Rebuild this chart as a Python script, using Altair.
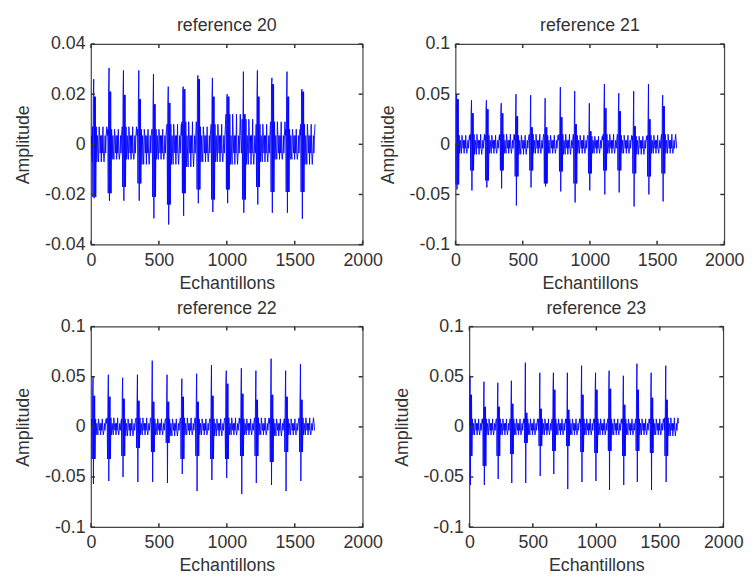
import altair as alt
import pandas as pd

# ---- data (sample index, amplitude) ----
END = 1650

# reference 20
r20_x = [20, 133, 239, 352, 460, 569, 679, 787, 894, 1003, 1122, 1225, 1332, 1443, 1553]
r20_max = [0.026, 0.0305, 0.0295, 0.0295, 0.028, 0.023, 0.023, 0.0275, 0.0265, 0.020, 0.029, 0.0295, 0.0265, 0.029, 0.022]
r20_min = [-0.0215, -0.0225, -0.0225, -0.0225, -0.0295, -0.032, -0.0285, -0.0235, -0.027, -0.0235, -0.0273, -0.024, -0.0273, -0.0273, -0.0297]
r20_chi = [0.019, 0.021, 0.0197, 0.018, 0.016, 0.0165, 0.022, 0.026, 0.019, 0.019, 0.012, 0.019, 0.024, 0.019, 0.021]
r20_clo = [-0.021, -0.0195, -0.017, -0.0156, -0.021, -0.024, -0.0195, -0.018, -0.022, -0.018, -0.022, -0.017, -0.019, -0.019, -0.019]
r20_ghi = [0.007, 0.006, 0.007, 0.006, 0.006, 0.008, 0.009, 0.007, 0.008, 0.012, 0.010, 0.008, 0.009, 0.006, 0.008]
r20_glo = [-0.007, -0.006, -0.006, -0.008, -0.006, -0.008, -0.009, -0.007, -0.007, -0.008, -0.008, -0.007, -0.006, -0.006, -0.008]
r20_noise = 0.0035

# reference 21
r21_x = [8, 119, 230, 340, 450, 559, 667, 780, 887, 996, 1108, 1215, 1326, 1436, 1542]
r21_max = [0.050, 0.044, 0.044, 0.041, 0.050, 0.049, 0.046, 0.057, 0.053, 0.041, 0.060, 0.051, 0.053, 0.060, 0.049]
r21_min = [-0.045, -0.046, -0.043, -0.044, -0.061, -0.043, -0.042, -0.047, -0.058, -0.046, -0.050, -0.048, -0.062, -0.050, -0.057]
r21_chi = [0.045, 0.031, 0.035, 0.031, 0.028, 0.017, 0.017, 0.027, 0.020, 0.013, 0.036, 0.033, 0.018, 0.025, 0.038]
r21_clo = [-0.040, -0.026, -0.036, -0.026, -0.032, -0.026, -0.039, -0.027, -0.039, -0.029, -0.026, -0.026, -0.029, -0.032, -0.029]
r21_ghi = [0.009, 0.010, 0.009, 0.010, 0.009, 0.010, 0.009, 0.010, 0.009, 0.008, 0.010, 0.009, 0.008, 0.009, 0.010]
r21_glo = [-0.009, -0.010, -0.009, -0.009, -0.010, -0.009, -0.009, -0.010, -0.009, -0.009, -0.009, -0.009, -0.010, -0.009, -0.009]
r21_noise = 0.004

# reference 22
r22_x = [15, 128, 233, 342, 451, 560, 669, 778, 887, 996, 1107, 1214, 1326, 1433, 1542]
r22_max = [0.050, 0.052, 0.049, 0.052, 0.066, 0.052, 0.048, 0.053, 0.0615, 0.056, 0.0585, 0.056, 0.068, 0.056, 0.0625]
r22_min = [-0.057, -0.054, -0.050, -0.055, -0.055, -0.056, -0.047, -0.064, -0.053, -0.051, -0.067, -0.056, -0.058, -0.064, -0.054]
r22_chi = [0.031, 0.030, 0.028, 0.026, 0.025, 0.025, 0.030, 0.025, 0.031, 0.043, 0.033, 0.027, 0.032, 0.030, 0.027]
r22_clo = [-0.032, -0.032, -0.029, -0.021, -0.025, -0.016, -0.032, -0.029, -0.032, -0.032, -0.029, -0.029, -0.035, -0.025, -0.025]
r22_ghi = [0.008, 0.009, 0.008, 0.009, 0.008, 0.008, 0.009, 0.008, 0.008, 0.009, 0.008, 0.009, 0.008, 0.008, 0.009]
r22_glo = [-0.008, -0.008, -0.009, -0.008, -0.008, -0.009, -0.008, -0.008, -0.009, -0.008, -0.008, -0.008, -0.009, -0.008, -0.008]
r22_noise = 0.0035

# reference 23
r23_x = [5, 115, 224, 331, 441, 555, 662, 772, 884, 994, 1101, 1213, 1320, 1432, 1547]
r23_max = [0.051, 0.045, 0.044, 0.046, 0.064, 0.054, 0.054, 0.054, 0.061, 0.054, 0.056, 0.051, 0.063, 0.054, 0.061]
r23_min = [-0.058, -0.058, -0.052, -0.056, -0.056, -0.049, -0.047, -0.062, -0.055, -0.054, -0.063, -0.058, -0.055, -0.063, -0.055]
r23_chi = [0.032, 0.020, 0.020, 0.023, 0.014, 0.018, 0.037, 0.017, 0.032, 0.037, 0.038, 0.022, 0.037, 0.029, 0.027]
r23_clo = [-0.029, -0.039, -0.029, -0.027, -0.016, -0.019, -0.024, -0.019, -0.025, -0.026, -0.024, -0.029, -0.024, -0.026, -0.029]
r23_ghi = [0.008, 0.008, 0.008, 0.008, 0.008, 0.008, 0.008, 0.008, 0.008, 0.008, 0.008, 0.008, 0.008, 0.008, 0.009]
r23_glo = [-0.008, -0.008, -0.008, -0.008, -0.008, -0.008, -0.008, -0.008, -0.008, -0.008, -0.008, -0.008, -0.008, -0.008, -0.009]
r23_noise = 0.0035

x_ticks = [0, 500, 1000, 1500, 2000]
y_ticks_20 = [-0.04, -0.02, 0, 0.02, 0.04]
y_ticks_2x = [-0.1, -0.05, 0, 0.05, 0.1]

FONT = "Liberation Sans"
TXT = "#333333"
BLUE = "#0000ff"
H = 203


def build(sx, smax, smin, chi, clo, ghi, glo, noise):
    pts = [(0, 0.0)]

    def add(x, y):
        if x > pts[-1][0] and x <= END:
            pts.append((x, y))

    def band(a, b, k):
        for j, x in enumerate(range(a, b, 4)):
            if j % 7 == 3:
                y = ghi[k]
            elif j % 5 == 2:
                y = glo[k]
            else:
                y = noise if j % 2 == 0 else -noise
            add(x, y)

    band(2, sx[0] - 9, 0)
    for k, s in enumerate(sx):
        for dx, y in [(-9, ghi[k]), (-6, clo[k]), (-3, chi[k]), (0, smax[k]), (3, smin[k]),
                      (6, chi[k]), (9, clo[k]), (12, chi[k]), (15, clo[k]),
                      (19, ghi[k]), (23, glo[k])]:
            add(s + dx, y)
        nxt = sx[k + 1] - 9 if k + 1 < len(sx) else END
        band(s + 28, nxt, k)
    return pd.DataFrame({"i": range(len(pts)), "x": [p[0] for p in pts], "y": [p[1] for p in pts]})


def panel(title, df, ydom, yticks, width, height=H):
    xenc = alt.X("x:Q", scale=alt.Scale(domain=[0, 2000], nice=False, zero=False),
                 axis=alt.Axis(values=x_ticks, title="Echantillons", format="d", ticks=False,
                               domain=False, grid=False, labelFlush=False, labelPadding=7,
                               titlePadding=5))
    ylab = "datum.value == 0 ? '0' : (datum.value < 0 ? '-' : '') + format(abs(datum.value), '~g')"
    yenc = alt.Y("y:Q", scale=alt.Scale(domain=ydom, nice=False, zero=False),
                 axis=alt.Axis(values=yticks, title="Amplitude", labelExpr=ylab, ticks=False,
                               domain=False, grid=False, labelFlush=False, labelPadding=6,
                               titlePadding=12))
    line = alt.Chart(df).mark_line(color=BLUE, strokeWidth=0.9, clip=True).encode(
        x=xenc, y=yenc, order="i:Q")
    xt = pd.DataFrame({"x": x_ticks})
    yt = pd.DataFrame({"y": yticks})
    tk = dict(color="#333333", strokeWidth=1.5)
    xb = alt.Chart(xt).mark_rule(**tk).encode(x=xenc, y=alt.value(height), y2=alt.value(height - 4))
    xtop = alt.Chart(xt).mark_rule(**tk).encode(x=xenc, y=alt.value(0), y2=alt.value(4))
    yl = alt.Chart(yt).mark_rule(**tk).encode(y=yenc, x=alt.value(0), x2=alt.value(4))
    yr = alt.Chart(yt).mark_rule(**tk).encode(y=yenc, x=alt.value(width - 4), x2=alt.value(width))
    return alt.layer(line, xb, xtop, yl, yr).properties(
        width=width, height=height,
        title=alt.TitleParams(title, font=FONT, fontSize=18, fontWeight="normal", color=TXT, offset=0))


p1 = panel("reference 20", build(r20_x, r20_max, r20_min, r20_chi, r20_clo, r20_ghi, r20_glo, r20_noise),
           [-0.04, 0.04], y_ticks_20, 275)
p2 = panel("reference 21", build(r21_x, r21_max, r21_min, r21_chi, r21_clo, r21_ghi, r21_glo, r21_noise),
           [-0.1, 0.1], y_ticks_2x, 272)
p3 = panel("reference 22", build(r22_x, r22_max, r22_min, r22_chi, r22_clo, r22_ghi, r22_glo, r22_noise),
           [-0.1, 0.1], y_ticks_2x, 275)
p4 = panel("reference 23", build(r23_x, r23_max, r23_min, r23_chi, r23_clo, r23_ghi, r23_glo, r23_noise),
           [-0.1, 0.1], y_ticks_2x, 257)

row1 = alt.hconcat(p1, p2, spacing=-5)
row2 = alt.hconcat(p3, p4, spacing=9)
chart = alt.vconcat(row1, row2, spacing=6).properties(
    padding={"left": 6, "top": 5, "right": 0, "bottom": 0}
).configure_view(stroke="#444444", strokeWidth=1.2).configure_axis(
    labelFont=FONT, labelFontSize=18, labelColor=TXT,
    titleFont=FONT, titleFontSize=18, titleFontWeight="normal", titleColor=TXT
)

chart.save("out.html", embed_options={"renderer": "svg", "actions": False})
